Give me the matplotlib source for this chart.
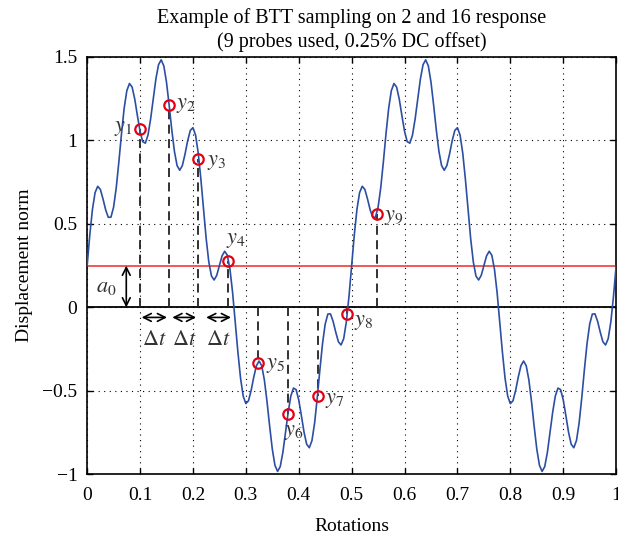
import numpy as np
import matplotlib
matplotlib.use("Agg")
from matplotlib import pyplot as plt

# displacement, every 0.005 rotations
rotations = np.linspace(0, 1, 201)
displacement = [
    0.250, 0.433, 0.586, 0.687, 0.725, 0.706, 0.649, 0.584, 0.539, 0.540,
    0.600, 0.716, 0.872, 1.041, 1.192, 1.297, 1.340, 1.319, 1.247, 1.148,
    1.054, 0.992, 0.983, 1.031, 1.128, 1.250, 1.368, 1.453, 1.482, 1.445,
    1.348, 1.211, 1.063, 0.934, 0.849, 0.821, 0.849, 0.917, 0.997, 1.059,
    1.076, 1.031, 0.924, 0.768, 0.587, 0.412, 0.272, 0.188, 0.164, 0.192,
    0.250, 0.308, 0.336, 0.312, 0.228, 0.088, -0.087, -0.268, -0.424, -0.531,
    -0.576, -0.559, -0.497, -0.417, -0.349, -0.321, -0.349, -0.434, -0.563, -0.711,
    -0.848, -0.945, -0.982, -0.953, -0.868, -0.750, -0.628, -0.531, -0.483, -0.492,
    -0.554, -0.648, -0.747, -0.819, -0.840, -0.797, -0.692, -0.541, -0.372, -0.216,
    -0.100, -0.040, -0.039, -0.084, -0.149, -0.206, -0.225, -0.187, -0.086, 0.067,
    0.250, 0.433, 0.586, 0.687, 0.725, 0.706, 0.649, 0.584, 0.539, 0.540,
    0.600, 0.716, 0.872, 1.041, 1.192, 1.297, 1.340, 1.319, 1.247, 1.148,
    1.054, 0.992, 0.983, 1.031, 1.128, 1.250, 1.368, 1.453, 1.482, 1.445,
    1.348, 1.211, 1.063, 0.934, 0.849, 0.821, 0.849, 0.917, 0.997, 1.059,
    1.076, 1.031, 0.924, 0.768, 0.587, 0.412, 0.272, 0.188, 0.164, 0.192,
    0.250, 0.308, 0.336, 0.312, 0.228, 0.088, -0.087, -0.268, -0.424, -0.531,
    -0.576, -0.559, -0.497, -0.417, -0.349, -0.321, -0.349, -0.434, -0.563, -0.711,
    -0.848, -0.945, -0.982, -0.953, -0.868, -0.750, -0.628, -0.531, -0.483, -0.492,
    -0.554, -0.648, -0.747, -0.819, -0.840, -0.797, -0.692, -0.541, -0.372, -0.216,
    -0.100, -0.040, -0.039, -0.084, -0.149, -0.206, -0.225, -0.187, -0.086, 0.067,
    0.250,
]

DC_OFFSET = 0.25

probe_x = [0.099, 0.154, 0.210, 0.267, 0.323, 0.379, 0.436, 0.492, 0.548]
probe_y = [1.07, 1.21, 0.89, 0.28, -0.33, -0.64, -0.53, -0.04, 0.56]
probe_names = [f"$y_{i}$" for i in range(1, 10)]
# where each probe label sits (x, y)
label_pos = [(0.050, 1.07), (0.168, 1.21), (0.226, 0.87), (0.263, 0.40),
             (0.338, -0.35), (0.372, -0.75), (0.450, -0.56), (0.504, -0.09),
             (0.562, 0.54)]

xticks = [0, 0.1, 0.2, 0.3, 0.4, 0.5, 0.6, 0.7, 0.8, 0.9, 1]
xticklabels = ["0", "0.1", "0.2", "0.3", "0.4", "0.5", "0.6", "0.7", "0.8", "0.9", "1"]
yticks = [-1, -0.5, 0, 0.5, 1, 1.5]
yticklabels = ["\u22121", "\u22120.5", "0", "0.5", "1", "1.5"]

# delta-t arrows below zero, between the first few probes
dt_spans = [(0.103, 0.151), (0.161, 0.206), (0.225, 0.272)]

plt.rcParams['font.family'] = ['Liberation Serif', 'DejaVu Serif']
plt.rcParams['mathtext.fontset'] = 'stix'
plt.rcParams['font.size'] = 14

fig = plt.figure(figsize=(6.18, 5.41), dpi=100)
ax = fig.add_axes([0.141, 0.123, 0.856, 0.772])

ax.grid(True, color='black', linestyle=(0, (1, 4)), linewidth=0.8)
ax.axhline(0, color='black', linewidth=1.3, zorder=2)
ax.axhline(DC_OFFSET, color='#f04a4a', linewidth=1.3, zorder=2)

ax.plot(rotations, displacement, color='#2c4ea3', linewidth=1.2, zorder=3)

for px, py in zip(probe_x, probe_y):
    ax.plot([px, px], [0, py], color='#222222', linestyle=(0, (5, 3)),
            linewidth=1.3, zorder=2)
ax.plot(probe_x, probe_y, 'o', markersize=7.5, markerfacecolor='none',
        markeredgecolor='#e60012', markeredgewidth=1.6, zorder=4)

for name, (lx, ly) in zip(probe_names, label_pos):
    ax.text(lx, ly, name, fontsize=16, va='center', ha='left', color='#333333')

# a0 arrow
ax.annotate('', xy=(0.074, 0), xytext=(0.074, DC_OFFSET),
            arrowprops=dict(arrowstyle='<->', color='black', lw=1.2,
                            shrinkA=0, shrinkB=0))
ax.text(0.036, 0.12, '$a_0$', fontsize=16, va='center', ha='center', color='#333333')

for x0, x1 in dt_spans:
    ax.annotate('', xy=(x0, -0.06), xytext=(x1, -0.06),
                arrowprops=dict(arrowstyle='<->', color='black', lw=1.2,
                                shrinkA=0, shrinkB=0))
    ax.text((x0 + x1) / 2, -0.20, r'$\Delta t$', fontsize=16, va='center',
            ha='center', color='#333333')

ax.set_xlim(0, 1)
ax.set_ylim(-1, 1.5)
ax.set_xticks(xticks)
ax.set_xticklabels(xticklabels)
ax.set_yticks(yticks)
ax.set_yticklabels(yticklabels)
ax.tick_params(direction='in', top=True, right=True, length=4, width=1,
               labelsize=14)
ax.tick_params(axis='x', pad=9)
ax.tick_params(axis='y', pad=7)
for sp in ax.spines.values():
    sp.set_linewidth(1.2)

ax.set_xlabel('Rotations', fontsize=14, labelpad=10)
ax.set_ylabel('Displacement norm', fontsize=14, labelpad=7)
ax.set_title('Example of BTT sampling on 2 and 16 response\n(9 probes used, 0.25% DC offset)',
             fontsize=14.5, linespacing=1.3, pad=7)

fig.savefig('out.png', dpi=100)
